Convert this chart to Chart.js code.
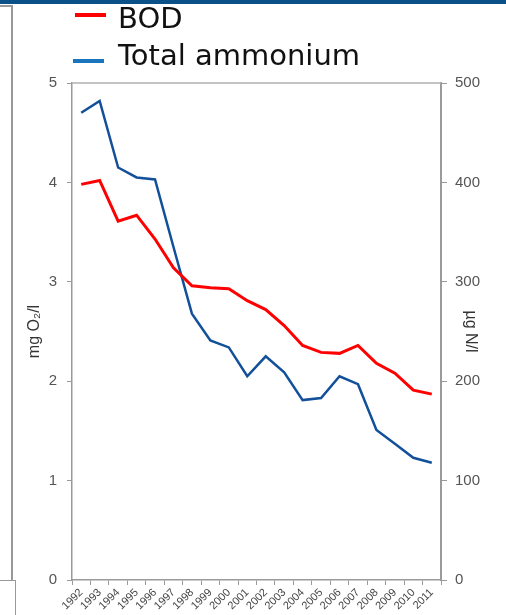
<!DOCTYPE html>
<html>
<head>
<meta charset="utf-8">
<script src="https://cdn.jsdelivr.net/npm/chart.js@4"></script>
<style>
  html, body { margin: 0; padding: 0; background: #fff; }
  #wrap { position: relative; width: 506px; height: 615px; overflow: hidden; }
  #chart { position: absolute; left: 0; top: 0; }
  .deco { position: absolute; background: #999; }
  .key { position: absolute; height: 4px; width: 31px; }
  .lbl { position: absolute; font-family: "DejaVu Sans", Verdana, sans-serif; font-size: 29px; line-height: 29px; color: #111; white-space: nowrap; }
</style>
</head>
<body>
<div id="wrap">
  <canvas id="chart" width="506" height="615"></canvas>
  <div class="deco" style="left:0;top:0;width:506px;height:4px;background:#0c5088"></div>
  <div class="deco" style="left:0;top:5px;width:13px;height:1.5px"></div>
  <div class="deco" style="left:11px;top:5px;width:2px;height:575px"></div>
  <div class="deco" style="left:0;top:580px;width:15px;height:1px"></div>
  <div class="deco" style="left:14.5px;top:580px;width:1px;height:35px"></div>
  <div id="legend"></div>
</div>
<script>
const years = ['1992', '1993', '1994', '1995', '1996', '1997', '1998', '1999', '2000', '2001',
  '2002', '2003', '2004', '2005', '2006', '2007', '2008', '2009', '2010', '2011'];

// mg O2/l (left axis)
const bod = [3.98, 4.02, 3.61, 3.67, 3.43, 3.14, 2.96, 2.94, 2.93, 2.81,
  2.72, 2.56, 2.36, 2.29, 2.28, 2.36, 2.18, 2.08, 1.91, 1.87];

// µg N/l (right axis)
const ammonium = [470, 482, 415, 405, 403, 335, 268, 241, 234, 205,
  225, 209, 181, 183, 205, 197, 151, 137, 123, 118];

const seriesNames = ['BOD', 'Total ammonium'];
const lineColors = ['#ff0000', '#12509a'];
const keyColors = ['#ff0000', '#1b75bc'];

const leftTicks = [0, 1, 2, 3, 4, 5];
const rightTicks = [0, 100, 200, 300, 400, 500];

// legend (drawn as html, top left of the slide)
const legend = document.getElementById('legend');
const keyPos = [{ x: 75, y: 13 }, { x: 73, y: 59 }];
const textTop = [3.5, 40.5];
seriesNames.forEach((name, i) => {
  const key = document.createElement('div');
  key.className = 'key';
  key.style.left = keyPos[i].x + 'px';
  key.style.top = keyPos[i].y + 'px';
  key.style.background = keyColors[i];
  legend.appendChild(key);
  const t = document.createElement('div');
  t.className = 'lbl';
  t.style.left = '118px';
  t.style.top = textTop[i] + 'px';
  t.textContent = name;
  legend.appendChild(t);
});

const axisGrey = '#9a9a9a';
const tickFont = { family: 'Liberation Sans, Arial, sans-serif', size: 15 };

const topLine = {
  id: 'topLine',
  afterDraw(chart) {
    const { ctx, chartArea } = chart;
    ctx.save();
    ctx.strokeStyle = '#b0b0b0';
    ctx.lineWidth = 1.5;
    ctx.beginPath();
    ctx.moveTo(chartArea.left, chartArea.top);
    ctx.lineTo(chartArea.right, chartArea.top);
    ctx.stroke();
    ctx.restore();
  }
};

new Chart(document.getElementById('chart'), {
  type: 'line',
  data: {
    labels: years,
    datasets: [
      {
        label: seriesNames[0],
        data: bod,
        borderColor: lineColors[0],
        borderWidth: 3,
        pointRadius: 0,
        tension: 0,
        yAxisID: 'y'
      },
      {
        label: seriesNames[1],
        data: ammonium,
        borderColor: lineColors[1],
        borderWidth: 2.5,
        pointRadius: 0,
        tension: 0,
        yAxisID: 'y2'
      }
    ]
  },
  options: {
    responsive: false,
    animation: false,
    layout: { padding: { top: 83, left: 0, right: 0, bottom: 0 } },
    plugins: { legend: { display: false }, tooltip: { enabled: false } },
    scales: {
      x: {
        offset: true,
        grid: { offset: true, drawOnChartArea: false, drawTicks: true, tickLength: 5, color: axisGrey },
        border: { color: axisGrey, width: 1.5 },
        ticks: {
          autoSkip: false, minRotation: 45, maxRotation: 45, padding: 1,
          color: '#444', font: { family: 'Liberation Sans, Arial, sans-serif', size: 11 }
        },
        afterFit: (s) => { s.height = 35; }
      },
      y: {
        position: 'left',
        min: 0, max: 5,
        afterBuildTicks: (s) => { s.ticks = leftTicks.map(v => ({ value: v })); },
        grid: { drawOnChartArea: false, drawTicks: true, tickLength: 5, color: axisGrey },
        border: { color: axisGrey, width: 1.5 },
        ticks: { padding: 10, color: '#555', font: tickFont },
        title: {
          display: true, text: 'mg O₂/l', color: '#333',
          font: { family: 'Liberation Sans, Arial, sans-serif', size: 16 },
          padding: { top: 25.4, bottom: 0 }
        },
        afterFit: (s) => { s.width = 72; }
      },
      y2: {
        position: 'right',
        min: 0, max: 500,
        afterBuildTicks: (s) => { s.ticks = rightTicks.map(v => ({ value: v })); },
        grid: { drawOnChartArea: false, drawTicks: true, tickLength: 6, color: axisGrey },
        border: { color: axisGrey, width: 2 },
        ticks: { padding: 8, color: '#555', font: tickFont },
        title: {
          display: true, text: 'µg N/l', color: '#333',
          font: { family: 'Liberation Sans, Arial, sans-serif', size: 16 },
          padding: { top: 26.4, bottom: 0 }
        },
        afterFit: (s) => { s.width = 65; }
      }
    }
  },
  plugins: [topLine]
});
</script>
</body>
</html>
